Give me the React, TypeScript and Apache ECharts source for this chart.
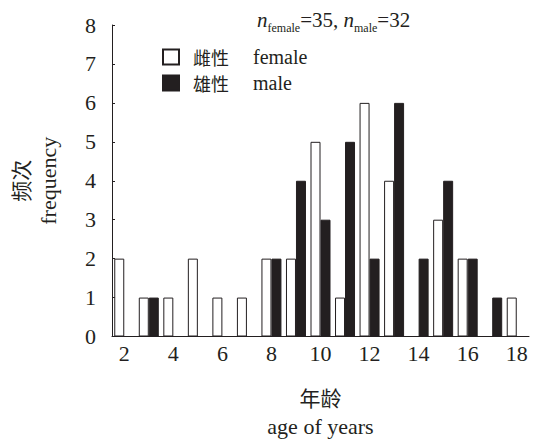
import React, { useEffect, useRef } from "react";
import * as echarts from "echarts";

const ages = ["2", "3", "4", "5", "6", "7", "8", "9", "10", "11", "12", "13", "14", "15", "16", "17", "18"];
const female = [2, 1, 1, 2, 1, 1, 2, 2, 5, 1, 6, 4, 0, 3, 2, 0, 1];
const male = [0, 1, 0, 0, 0, 0, 2, 4, 3, 5, 2, 6, 2, 4, 2, 1, 0];
const yTicks = { min: 0, max: 8, interval: 1 };
const seriesNames = ["雌性", "雄性"];
const seriesEn: Record<string, string> = { "雌性": "female", "雄性": "male" };

const INK = "#231f20";
const SERIF = "Liberation Serif";
const CJK = "Noto Sans CJK SC";

export default function App() {
  const ref = useRef<HTMLDivElement>(null);
  useEffect(() => {
    if (!ref.current) return;
    const chart = echarts.init(ref.current, undefined, { renderer: "svg" });
    chart.setOption({
      animation: false,
      backgroundColor: "#fff",
      textStyle: { fontFamily: SERIF, color: INK },
      title: {
        text: "{n|n}{sub|female}{t|=35, }{n|n}{sub|male}{t|=32}",
        left: 257,
        top: 8,
        padding: 0,
        textStyle: {
          fontWeight: "normal",
          fontFamily: SERIF,
          rich: {
            n: { fontFamily: SERIF, fontStyle: "italic", fontWeight: "normal", fontSize: 21, color: INK, lineHeight: 24, verticalAlign: "middle" },
            t: { fontFamily: SERIF, fontWeight: "normal", fontSize: 21, color: INK, lineHeight: 24, verticalAlign: "middle" },
            sub: { fontFamily: SERIF, fontWeight: "normal", fontSize: 12, color: INK, lineHeight: 12, verticalAlign: "bottom", padding: [0, 0, -2, 0] },
          },
        },
      },
      legend: {
        orient: "vertical",
        left: 162,
        top: 47,
        padding: 0,
        icon: "rect",
        itemWidth: 16,
        itemHeight: 15,
        itemGap: 6,
        data: seriesNames,
        formatter: (name: string) => `${name}{en|${seriesEn[name]}}`,
        textStyle: {
          color: INK,
          fontFamily: CJK,
          fontSize: 18,
          padding: [0, 0, 0, 9],
          lineHeight: 15,
          rich: {
            en: { fontFamily: SERIF, fontSize: 20, color: INK, lineHeight: 15, padding: [0, 0, 0, 24] },
          },
        },
      },
      grid: { left: 112, right: 7, top: 25, bottom: 104.5, containLabel: false, outerBoundsMode: "none" },
      xAxis: {
        type: "category",
        data: ages,
        boundaryGap: true,
        axisLine: { show: true, lineStyle: { color: INK, width: 1 } },
        axisTick: { show: false },
        axisLabel: {
          interval: (_i: number, v: string) => Number(v) % 2 === 0,
          fontFamily: SERIF,
          fontSize: 22,
          color: INK,
          margin: 6,
        },
        name: "{cn|年龄}\n{en|age of years}",
        nameLocation: "middle",
        nameGap: 45,
        nameTextStyle: {
          fontFamily: SERIF,
          color: INK,
          rich: {
            cn: { fontFamily: CJK, fontSize: 21, color: INK, lineHeight: 30 },
            en: { fontFamily: SERIF, fontSize: 22, color: INK, lineHeight: 29 },
          },
        },
      },
      yAxis: {
        type: "value",
        min: yTicks.min,
        max: yTicks.max,
        interval: yTicks.interval,
        axisLine: { show: true, lineStyle: { color: INK, width: 1 } },
        axisTick: { show: true, inside: true, length: 3, lineStyle: { color: INK } },
        splitLine: { show: false },
        axisLabel: { fontFamily: SERIF, fontSize: 22, color: INK, margin: 16 },
        name: "{cn|频次}\n{en|frequency}",
        nameLocation: "middle",
        nameRotate: 90,
        nameGap: 49,
        nameTextStyle: {
          fontFamily: SERIF,
          color: INK,
          rich: {
            cn: { fontFamily: CJK, fontSize: 21, color: INK, lineHeight: 29 },
            en: { fontFamily: SERIF, fontSize: 22, color: INK, lineHeight: 29 },
          },
        },
      },
      series: [
        {
          name: seriesNames[0],
          type: "bar",
          data: female,
          barWidth: 10,
          barGap: "0%",
          itemStyle: { color: "#ffffff", borderColor: INK, borderWidth: 1 },
        },
        {
          name: seriesNames[1],
          type: "bar",
          data: male,
          barWidth: 10,
          barGap: "0%",
          itemStyle: { color: INK, borderColor: INK, borderWidth: 1 },
        },
      ],
    });
    return () => chart.dispose();
  }, []);
  return <div ref={ref} style={{ position: "fixed", left: 0, top: 0, width: 536, height: 441 }} />;
}
